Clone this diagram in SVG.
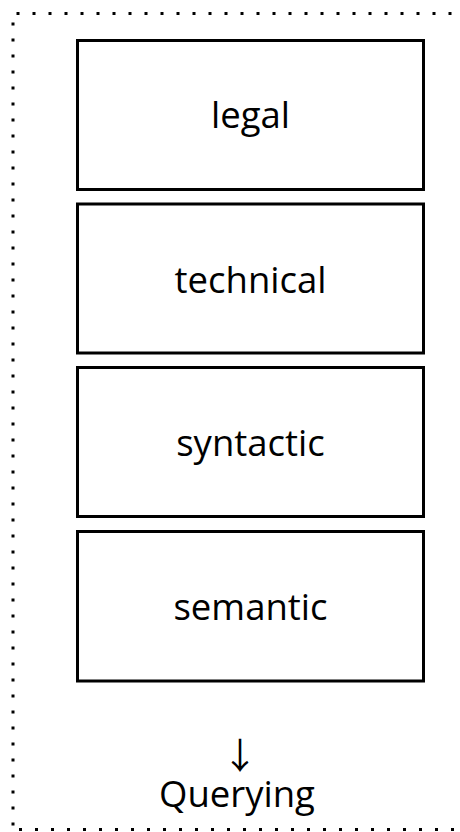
<svg xmlns="http://www.w3.org/2000/svg" width="460" height="832" viewBox="0 0 460 832">
<style>
.box{fill:#fff;stroke:#000;stroke-width:3}
.lbl{font-family:"Open Sans","Noto Sans",sans-serif;font-size:36.5px;fill:#000;text-anchor:middle}
.arw{font-family:"Noto Sans CJK SC","DejaVu Sans",sans-serif;font-size:36px;fill:#000;text-anchor:middle}
.dot{stroke:#000;stroke-width:3;stroke-dasharray:3 13;fill:none}
</style>
<rect width="460" height="832" fill="#fff"/>
<g id="frame">
<line class="dot" x1="16.5" y1="13.5" x2="470" y2="13.5"/>
<line class="dot" x1="13" y1="22.5" x2="13" y2="828"/>
<line class="dot" x1="19" y1="829.5" x2="470" y2="829.5"/>
</g>
<g id="legal"><rect class="box" x="77.5" y="40.5" width="346" height="149"/><text class="lbl" x="250.5" y="128">legal</text></g>
<g id="technical"><rect class="box" x="77.5" y="204" width="346" height="149"/><text class="lbl" x="250.5" y="293">technical</text></g>
<g id="syntactic"><rect class="box" x="77.5" y="367.5" width="346" height="149"/><text class="lbl" x="250.5" y="456">syntactic</text></g>
<g id="semantic"><rect class="box" x="77.5" y="531.5" width="346" height="149.5"/><text class="lbl" x="250.5" y="620">semantic</text></g>
<g id="querying">
<text class="arw" x="240" y="769">↓</text>
<text class="lbl" x="237" y="807">Querying</text>
</g>
<g id="connectors"></g>
</svg>
